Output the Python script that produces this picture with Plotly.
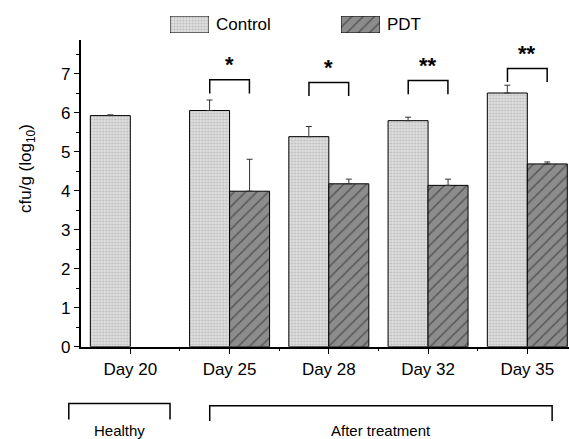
import plotly.graph_objects as go

W, H = 569, 439

# ---------------- data ----------------
categories = ["Day 20", "Day 25", "Day 28", "Day 32", "Day 35"]
control = [5.93, 6.06, 5.39, 5.80, 6.51]
control_err = [0.02, 0.27, 0.26, 0.09, 0.20]
pdt = [None, 3.99, 4.18, 4.14, 4.69]
pdt_err = [0, 0.82, 0.12, 0.16, 0.05]

sig_labels = ["*", "*", "**", "**"]
sig_index = [1, 2, 3, 4]
bracket_top = [6.85, 6.78, 6.83, 7.14]
bracket_drop = 0.35

group_labels = ["Healthy", "After treatment"]
group_span = [(-0.62, 0.40), (0.80, 4.25)]

# ---------------- geometry ----------------
XR = [-0.5, 4.42]
YR = [0, 7.87]
x_left_px, x_right_px = 80.7, 569
y_top_px, y_bot_px = 40, 346.7
x_dom = [x_left_px / W, x_right_px / W]
y_dom = [1 - y_bot_px / H, 1 - y_top_px / H]


def cat_to_paper(c):
    px = x_left_px + (c - XR[0]) / (XR[1] - XR[0]) * (x_right_px - x_left_px)
    return px / W


def py(p):
    return 1 - p / H


FONT = "Liberation Sans, Arial, sans-serif"
ctrl_pattern = dict(shape=".", fgcolor="#9a9a9a", bgcolor="#dedede", size=3, solidity=0.35)
pdt_pattern = dict(shape="/", fgcolor="#1a1a1a", bgcolor="#8c8c8c", size=8, solidity=0.18)

x_pos = list(range(len(categories)))

fig = go.Figure()
fig.add_trace(go.Bar(
    x=x_pos, y=control, name="Control",
    marker=dict(color="#dedede", pattern=ctrl_pattern, line=dict(color="black", width=1)),
    error_y=dict(type="data", array=control_err, arrayminus=[0] * len(control_err),
                 color="#333333", thickness=1, width=3),
    showlegend=False,
))
fig.add_trace(go.Bar(
    x=x_pos, y=pdt, name="PDT",
    marker=dict(color="#8c8c8c", pattern=pdt_pattern, line=dict(color="black", width=1)),
    error_y=dict(type="data", array=pdt_err, arrayminus=[0] * len(pdt_err),
                 color="#333333", thickness=1, width=3),
    showlegend=False,
))

# custom legend swatches (large patterned boxes)
legend_boxes = [(170, 209, 16, 33, ctrl_pattern, "#dedede", "Control"),
                (341, 380, 16, 33, pdt_pattern, "#8c8c8c", "PDT")]
for i, (x0, x1, y0, y1, pat, col, label) in enumerate(legend_boxes):
    ax = i + 2
    fig.add_trace(go.Bar(
        x=[0], y=[1], width=[1], xaxis=f"x{ax}", yaxis=f"y{ax}",
        marker=dict(color=col, pattern=pat, line=dict(color="black", width=1)),
        showlegend=False, cliponaxis=False, hoverinfo="skip",
    ))
    fig.update_layout(**{
        f"xaxis{ax}": dict(domain=[x0 / W, x1 / W], range=[-0.5, 0.5], visible=False, anchor=f"y{ax}"),
        f"yaxis{ax}": dict(domain=[py(y1), py(y0)], range=[0, 1], visible=False, anchor=f"x{ax}"),
    })
    fig.add_annotation(x=(x1 + 5) / W, y=py((y0 + y1) / 2), xref="paper", yref="paper",
                       text=label, showarrow=False, xanchor="left", yanchor="middle",
                       font=dict(size=17, color="black", family=FONT))

shapes = []
# significance brackets
for idx, top, lab in zip(sig_index, bracket_top, sig_labels):
    xa, xb = idx - 0.2, idx + 0.2
    shapes.append(dict(type="path", xref="x", yref="y",
                       path=f"M {xa},{top - bracket_drop} L {xa},{top} L {xb},{top} L {xb},{top - bracket_drop}",
                       line=dict(color="black", width=1.5)))
    fig.add_annotation(x=idx, y=top + 0.02, xref="x", yref="y", text=f"<b>{lab}</b>",
                       showarrow=False, xanchor="center", yanchor="bottom",
                       font=dict(size=22, color="black", family=FONT))

# group brackets below the axis
g_top = [403.5, 405.7]
g_bot = [419.5, 421]
for (a, b), lab, t, bt in zip(group_span, group_labels, g_top, g_bot):
    xa, xb = cat_to_paper(a), cat_to_paper(b)
    shapes.append(dict(type="path", xref="paper", yref="paper",
                       path=f"M {xa},{py(bt)} L {xa},{py(t)} L {xb},{py(t)} L {xb},{py(bt)}",
                       line=dict(color="black", width=1.5)))
    fig.add_annotation(x=(xa + xb) / 2, y=py(420), xref="paper", yref="paper",
                       text=lab, showarrow=False, xanchor="center", yanchor="top",
                       font=dict(size=15, color="black", family=FONT))

# y-axis title placed as a rotated annotation
fig.add_annotation(x=27 / W, y=py(169), xref="paper", yref="paper",
                   text="cfu/g (log<sub>10</sub>)", textangle=-90, showarrow=False,
                   xanchor="center", yanchor="middle",
                   font=dict(size=17, color="black", family=FONT))

fig.update_layout(
    width=W, height=H,
    margin=dict(l=0, r=0, t=0, b=0),
    paper_bgcolor="white", plot_bgcolor="white",
    barmode="group", bargap=0.194, bargroupgap=0,
    font=dict(family=FONT, size=17, color="black"),
    shapes=shapes,
    showlegend=False,
    xaxis=dict(
        domain=x_dom, range=XR, tickvals=x_pos, ticktext=categories,
        showline=True, linecolor="black", linewidth=1.5,
        ticks="outside", ticklen=6, tickwidth=1.2, tickcolor="black",
        minor=dict(tickvals=[0.5, 1.5, 2.5, 3.5], ticks="outside", ticklen=3, tickcolor="black", tickwidth=1.2),
        showgrid=False, zeroline=False, automargin=False,
        tickfont=dict(size=17), anchor="y",
    ),
    yaxis=dict(
        domain=y_dom, range=YR, tickvals=list(range(8)),
        showline=True, linecolor="black", linewidth=1.5,
        ticks="outside", ticklen=5, tickwidth=1.2, tickcolor="black",
        minor=dict(dtick=0.5, tick0=0, ticks="outside", ticklen=3, tickcolor="black", tickwidth=1.2),
        showgrid=False, zeroline=False, automargin=False,
        tickfont=dict(size=17), anchor="x",
    ),
)

fig.write_html("out.html", config={"displayModeBar": False},
               post_script="document.body.style.margin='0';document.body.style.overflow='hidden';")
